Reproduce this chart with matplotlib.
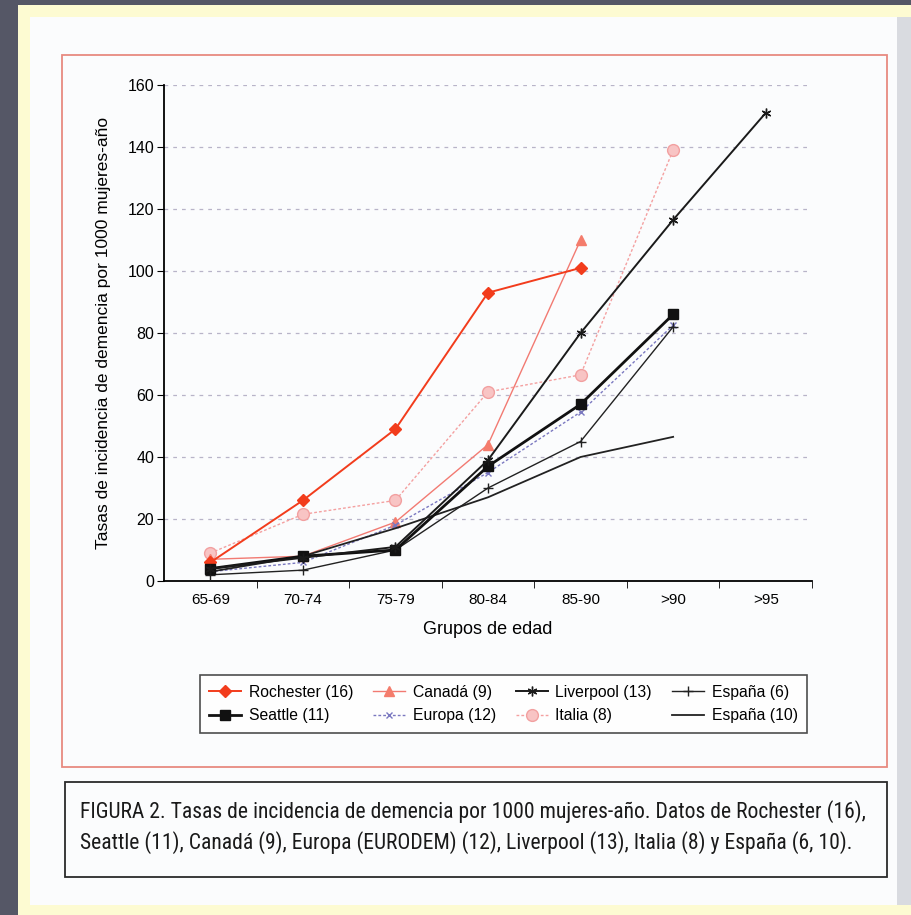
import numpy as np
import matplotlib
matplotlib.use("Agg")
import matplotlib.pyplot as plt
from matplotlib.patches import Rectangle
from matplotlib import font_manager as fm

disponibles = set(f.name for f in fm.fontManager.ttflist)
def elegir(cands):
    for c in cands:
        if c in disponibles:
            return c
    return 'DejaVu Sans'

fuente = elegir(['Liberation Sans', 'Arimo', 'Arial'])
fuente_estrecha = elegir(['Liberation Sans Narrow', 'Arial Narrow', 'Roboto Condensed',
                          'Archivo Narrow', 'PT Sans Narrow', 'Open Sans Condensed'])
plt.rcParams['font.family'] = [fuente, 'DejaVu Sans']

# grupos de edad y tasas por 1000 mujeres-año
grupos = ["65-69", "70-74", "75-79", "80-84", "85-90", ">90", ">95"]

rochester = [6, 26, 49, 93, 101]
seattle = [4, 8, 10, 37, 57, 86]
canada = [7, 8, 19, 44, 110]
europa = [3, 6, 18, 35, 54.5, 82.5]
liverpool = [4, 7.5, 11, 39, 80, 116.5, 151]
italia = [9, 21.5, 26, 61, 66.5, 139]
espana6 = [2, 3.5, 10, 30, 45, 82]
espana10 = [3, 8, 17, 27, 40, 46.5]

fig = plt.figure(figsize=(9.11, 9.15), dpi=100)
fig.patch.set_facecolor('#555766')

W, H = 911.0, 915.0
def frect(x0, y0, x1, y1, **kw):
    # rectangulo en pixeles de la figura (y desde arriba)
    r = Rectangle((x0 / W, 1 - y1 / H), (x1 - x0) / W, (y1 - y0) / H,
                  transform=fig.transFigure, **kw)
    fig.patches.append(r)

frect(18, 5, 911, 915, facecolor='#fdfbd2', edgecolor='none', zorder=-3)
frect(30, 17, 897, 905, facecolor='#fbfcfd', edgecolor='none', zorder=-2)
frect(897, 17, 911, 905, facecolor='#d9dbe0', edgecolor='none', zorder=-2)
frect(62, 55, 887, 767, facecolor='none', edgecolor='#e88a80', lw=1.3, zorder=-1)
frect(65, 782, 887, 877, facecolor='none', edgecolor='#2a2a2a', lw=1.3, zorder=-1)

ax = fig.add_axes([164 / W, 1 - 581 / H, 648 / W, 496 / H])
ax.set_facecolor('none')

x = np.arange(len(grupos))

ax.plot(x[:5], rochester, color='#f23c1c', lw=1.4, marker='D', ms=6.5,
        mfc='#f23c1c', mec='#f23c1c', label='Rochester (16)', zorder=5)
ax.plot(x[:6], seattle, color='#111111', lw=2.0, marker='s', ms=6.5,
        mfc='#111111', mec='#111111', label='Seattle (11)', zorder=5)
ax.plot(x[:5], canada, color='#f27a72', lw=1.0, marker='^', ms=7,
        mfc='#f47c6c', mec='#f47c6c', label='Canadá (9)', zorder=4)
ax.plot(x[:6], europa, color='#7a78c0', lw=1.0, ls=(0, (2, 1.5)), marker='x', ms=5,
        mec='#7a78c0', label='Europa (12)', zorder=4)
ax.plot(x, liverpool, color='#1a1a1a', lw=1.4, marker=(6, 2, 0), ms=7,
        mec='#1a1a1a', label='Liverpool (13)', zorder=5)
ax.plot(x[:6], italia, color='#f4a0a0', lw=1.0, ls=(0, (2, 1.5)), marker='o', ms=8.5,
        mfc='#f8c4c4', mec='#f2a0a0', label='Italia (8)', zorder=3)
ax.plot(x[:6], espana6, color='#222222', lw=1.0, marker='+', ms=7,
        mec='#222222', label='España (6)', zorder=4)
ax.plot(x[:6], espana10, color='#222222', lw=1.3, label='España (10)', zorder=4)

ax.set_xlim(-0.5, 6.5)
ax.set_ylim(0, 160)
ax.set_yticks(np.arange(0, 161, 20))
ax.set_xticks(x)
ax.set_xticklabels(grupos)
ax.set_xticks(np.arange(0.5, 7, 1), minor=True)
ax.tick_params(axis='x', which='major', length=0, pad=9, labelsize=11)
ax.tick_params(axis='x', which='minor', length=5, direction='out')
ax.tick_params(axis='y', length=5, direction='out', labelsize=11.5, pad=2)

for v in range(20, 161, 20):
    ax.axhline(v, color='#b8b4c8', lw=0.9, ls=(0, (3, 4)), zorder=1)

for s in ['top', 'right']:
    ax.spines[s].set_visible(False)
ax.spines['left'].set_linewidth(1.3)
ax.spines['bottom'].set_linewidth(1.3)

ax.set_xlabel('Grupos de edad', fontsize=13, labelpad=10)
ax.set_ylabel('Tasas de incidencia de demencia por 1000 mujeres-año', fontsize=12.5, labelpad=12)

leg = fig.legend(ncol=4, loc='center', bbox_to_anchor=(503.5 / W, 1 - 704 / H),
                 frameon=True, fancybox=False, edgecolor='#222222', fontsize=11.3,
                 handlelength=2.0, handletextpad=0.5, columnspacing=1.3,
                 borderpad=0.6, labelspacing=0.55)
leg.get_frame().set_linewidth(1.2)

caption = ("FIGURA 2. Tasas de incidencia de demencia por 1000 mujeres-año. Datos de Rochester (16),\n"
           "Seattle (11), Canadá (9), Europa (EURODEM) (12), Liverpool (13), Italia (8) y España (6, 10).")
fig.text(80 / W, 1 - 827 / H, caption, fontsize=15.6, va='center', ha='left',
         family=[fuente_estrecha, 'DejaVu Sans'], color='#1a1a1a', linespacing=1.5)

fig.savefig('out.png', dpi=100, facecolor=fig.get_facecolor())
